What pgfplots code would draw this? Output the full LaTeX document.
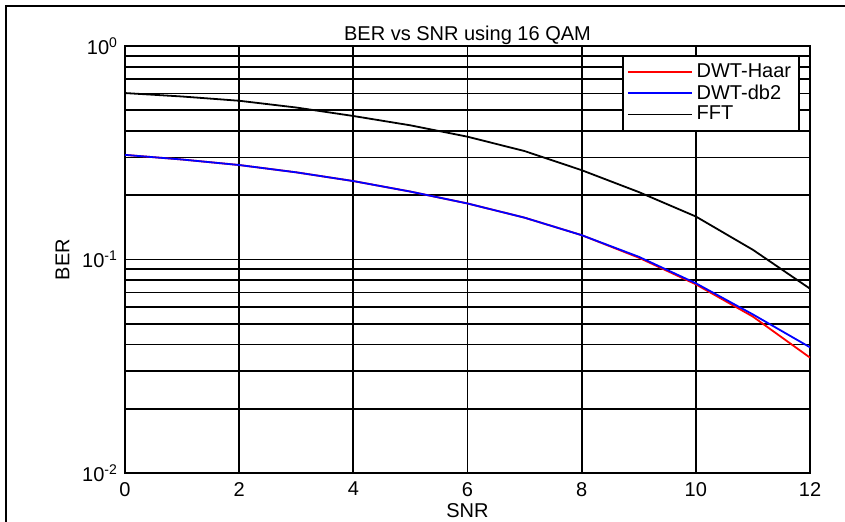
\documentclass[border=0pt]{standalone}
\usepackage{fontspec}
\setmainfont{Liberation Sans}
\usepackage{pgfplots}
\pgfplotsset{compat=1.18}
\begin{document}
\begin{tikzpicture}
\useasboundingbox (0pt,0pt) rectangle (422.5pt,261pt);
\fill[white] (0pt,0pt) rectangle (422.5pt,261pt);
\draw[line width=1.2pt] (3pt,-10pt) -- (3pt,258pt) -- (440pt,258pt);
\begin{axis}[
  at={(62.5pt,24.5pt)}, anchor=south west,
  scale only axis, width=342.5pt, height=213.5pt,
  ymode=log, xmin=0, xmax=12, ymin=0.01, ymax=1,
  xtick={0,2,4,6,8,10,12},
  ytick={0.01,0.1,1},
  yticklabels={10\textsuperscript{-2},10\textsuperscript{-1},10\textsuperscript{0}},
  minor ytick={0.02,0.03,0.04,0.05,0.06,0.07,0.08,0.09,0.2,0.3,0.4,0.5,0.6,0.7,0.8,0.9},
  grid=both,
  major grid style={black, line width=0.85pt},
  minor grid style={black, line width=0.85pt},
  axis line style={black, line width=1.1pt},
  tick align=inside, major tick length=3pt, minor tick length=2pt,
  tick style={black, line width=0.8pt},
  /pgf/number format/assume math mode=true,
  xticklabel style={yshift=-1pt},
  title={BER vs SNR using 16 QAM},
  every axis title/.style={at={(0.5,1)}, anchor=base, yshift=2.5pt},
  xlabel={SNR},
  xlabel style={at={(axis description cs:0.5,-0.089)}, anchor=center},
  ylabel={BER},
  ylabel style={at={(axis description cs:-0.0912,0.5)}, anchor=center},
  legend style={at={(1,1)}, anchor=north east, xshift=-5pt, yshift=-4.5pt,
    draw=black, line width=0.9pt, fill=white, row sep=-2pt, inner sep=2pt,
    cells={anchor=west}, font=\fontsize{10}{12}\selectfont},
  legend image code/.code={\draw[#1, line width=0.9pt] (0pt,0pt) -- (32pt,0pt);},
  legend cell align=left,
]
\addplot[red, line width=0.9pt] coordinates {
(0,0.309) (1,0.294) (2,0.277) (3,0.256) (4,0.233) (5,0.208) (6,0.183)
(7,0.157) (8,0.130) (9,0.102) (10,0.0765) (11,0.0540) (12,0.0347)};
\addlegendentry{DWT-Haar}
\addplot[blue, line width=0.9pt] coordinates {
(0,0.309) (1,0.294) (2,0.277) (3,0.256) (4,0.233) (5,0.208) (6,0.183)
(7,0.157) (8,0.130) (9,0.103) (10,0.0774) (11,0.0553) (12,0.0388)};
\addlegendentry{DWT-db2}
\addplot[black, line width=0.9pt] coordinates {
(0,0.602) (1,0.580) (2,0.554) (3,0.515) (4,0.470) (5,0.425) (6,0.376)
(7,0.322) (8,0.262) (9,0.207) (10,0.159) (11,0.111) (12,0.073)};
\addlegendentry{FFT}
\end{axis}
\end{tikzpicture}
\end{document}
